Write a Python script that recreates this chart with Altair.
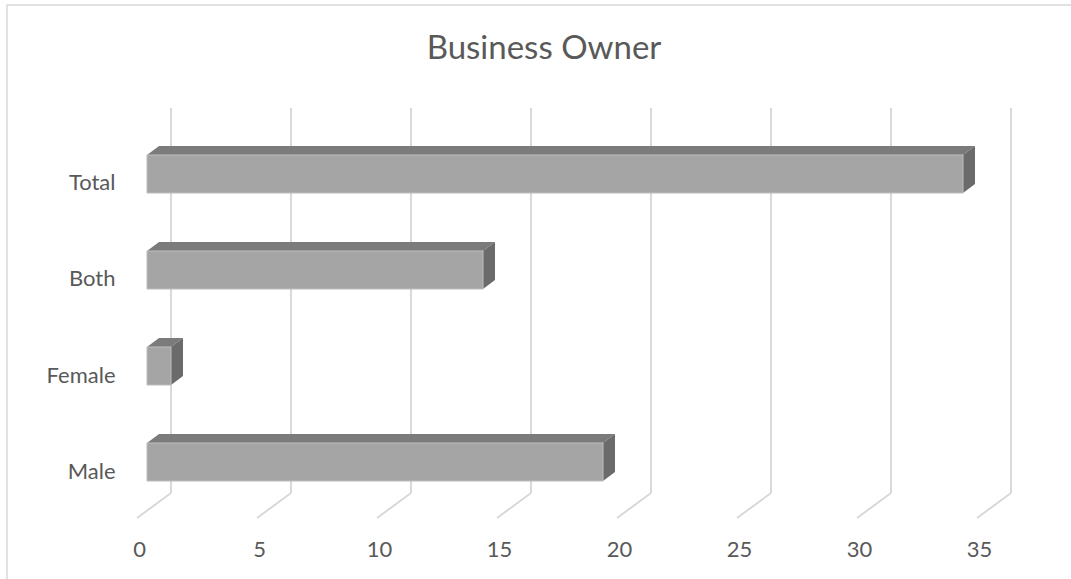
import altair as alt
import pandas as pd

# ---- data ----
categories = ["Male", "Female", "Both", "Total"]
values = [19, 1, 14, 34]
x_ticks = [0, 5, 10, 15, 20, 25, 30, 35]

# ---- styling / pseudo-3D geometry (in scale units) ----
HALF = 0.198      # half bar thickness (band units)
DDX = 0.5         # depth offset along x (value units)
DDY = 0.094       # depth offset along y (band units)
FLOOR_FRONT_X = -0.4167
FLOOR_BACK_X = 1.0
FLOOR_FRONT_Y = -0.5833
FLOOR_BACK_Y = -0.3229
GRID_TOP = 3.6875
X_DOMAIN = [-0.4167, 37.5]
Y_DOMAIN = [-0.5833, 3.7708]

FONT = "Lato"
TXT = "#595959"
GRID = "#d9d9d9"

W, H = 910, 418
PAD = {"left": 137, "top": 100, "right": 24, "bottom": 61}

idx = list(range(len(categories)))

front = pd.DataFrame({
    "cat": categories,
    "x": [0] * len(values),
    "x2": values,
    "y": [i - HALF for i in idx],
    "y2": [i + HALF for i in idx],
})

top_rows = []
side_rows = []
for c, i, v in zip(categories, idx, values):
    top_rows.append({"cat": c, "y": i + HALF, "x": 0, "x2": v})
    top_rows.append({"cat": c, "y": i + HALF + DDY, "x": DDX, "x2": v + DDX})
    side_rows.append({"cat": c, "x": v, "y": i - HALF, "y2": i + HALF})
    side_rows.append({"cat": c, "x": v + DDX, "y": i - HALF + DDY, "y2": i + HALF + DDY})
top = pd.DataFrame(top_rows)
side = pd.DataFrame(side_rows)

vgrid = pd.DataFrame({
    "x": [t + FLOOR_BACK_X for t in x_ticks],
    "x2": [t + FLOOR_BACK_X for t in x_ticks],
    "y": [FLOOR_BACK_Y] * len(x_ticks),
    "y2": [GRID_TOP] * len(x_ticks),
})
dgrid = pd.DataFrame({
    "x": [t + FLOOR_FRONT_X for t in x_ticks],
    "x2": [t + FLOOR_BACK_X for t in x_ticks],
    "y": [FLOOR_FRONT_Y] * len(x_ticks),
    "y2": [FLOOR_BACK_Y] * len(x_ticks),
})

xscale = alt.Scale(domain=X_DOMAIN, nice=False, zero=False)
yscale = alt.Scale(domain=Y_DOMAIN, nice=False, zero=False)

xaxis = alt.Axis(values=x_ticks, grid=False, domain=False, ticks=False,
                 labelFont=FONT, labelFontSize=22, labelColor=TXT,
                 labelOffset=-8, labelPadding=21, title=None)
label_expr = "[" + ",".join("'%s'" % c for c in categories) + "][datum.value]"
yaxis = alt.Axis(values=idx, grid=False, domain=False, ticks=False,
                 labelFont=FONT, labelFontSize=22, labelColor=TXT,
                 labelExpr=label_expr, labelOffset=9, labelPadding=22,
                 title=None)

X = alt.X("x:Q", scale=xscale, axis=xaxis)
Y = alt.Y("y:Q", scale=yscale, axis=yaxis)

border = alt.Chart(pd.DataFrame({"a": [0]})).mark_rect(
    fill=None, stroke=GRID, strokeWidth=1.5
).encode(
    x=alt.value(-130), x2=alt.value(W + 40),
    y=alt.value(-95), y2=alt.value(H + 80),
)

vlines = alt.Chart(vgrid).mark_rule(color=GRID, strokeWidth=2).encode(
    x=X, x2="x2:Q", y=Y, y2="y2:Q")
dlines = alt.Chart(dgrid).mark_rule(color=GRID, strokeWidth=2).encode(
    x=X, x2="x2:Q", y=Y, y2="y2:Q")

front_face = alt.Chart(front).mark_rect(
    color="#a5a5a5", stroke="#bdbdbd", strokeWidth=1
).encode(x=X, x2="x2:Q", y=Y, y2="y2:Q")

top_face = alt.Chart(top).mark_area(orient="horizontal", color="#7b7b7b").encode(
    y=Y, x=X, x2="x2:Q", detail="cat:N")

side_face = alt.Chart(side).mark_area(orient="vertical", color="#6b6b6b").encode(
    x=X, y=Y, y2="y2:Q", detail="cat:N")

chart = alt.layer(
    border, vlines, dlines, top_face, side_face, front_face
).properties(
    width=W, height=H,
    autosize=alt.AutoSizeParams(type="none"),
    padding=PAD,
    title=alt.TitleParams("Business Owner", font=FONT, fontSize=33,
                          fontWeight="normal", color=TXT, anchor="middle",
                          dx=-48, offset=-62),
    background="white",
).configure_view(stroke=None)

chart.save("out.html", embed_options={"renderer": "svg", "actions": False})
